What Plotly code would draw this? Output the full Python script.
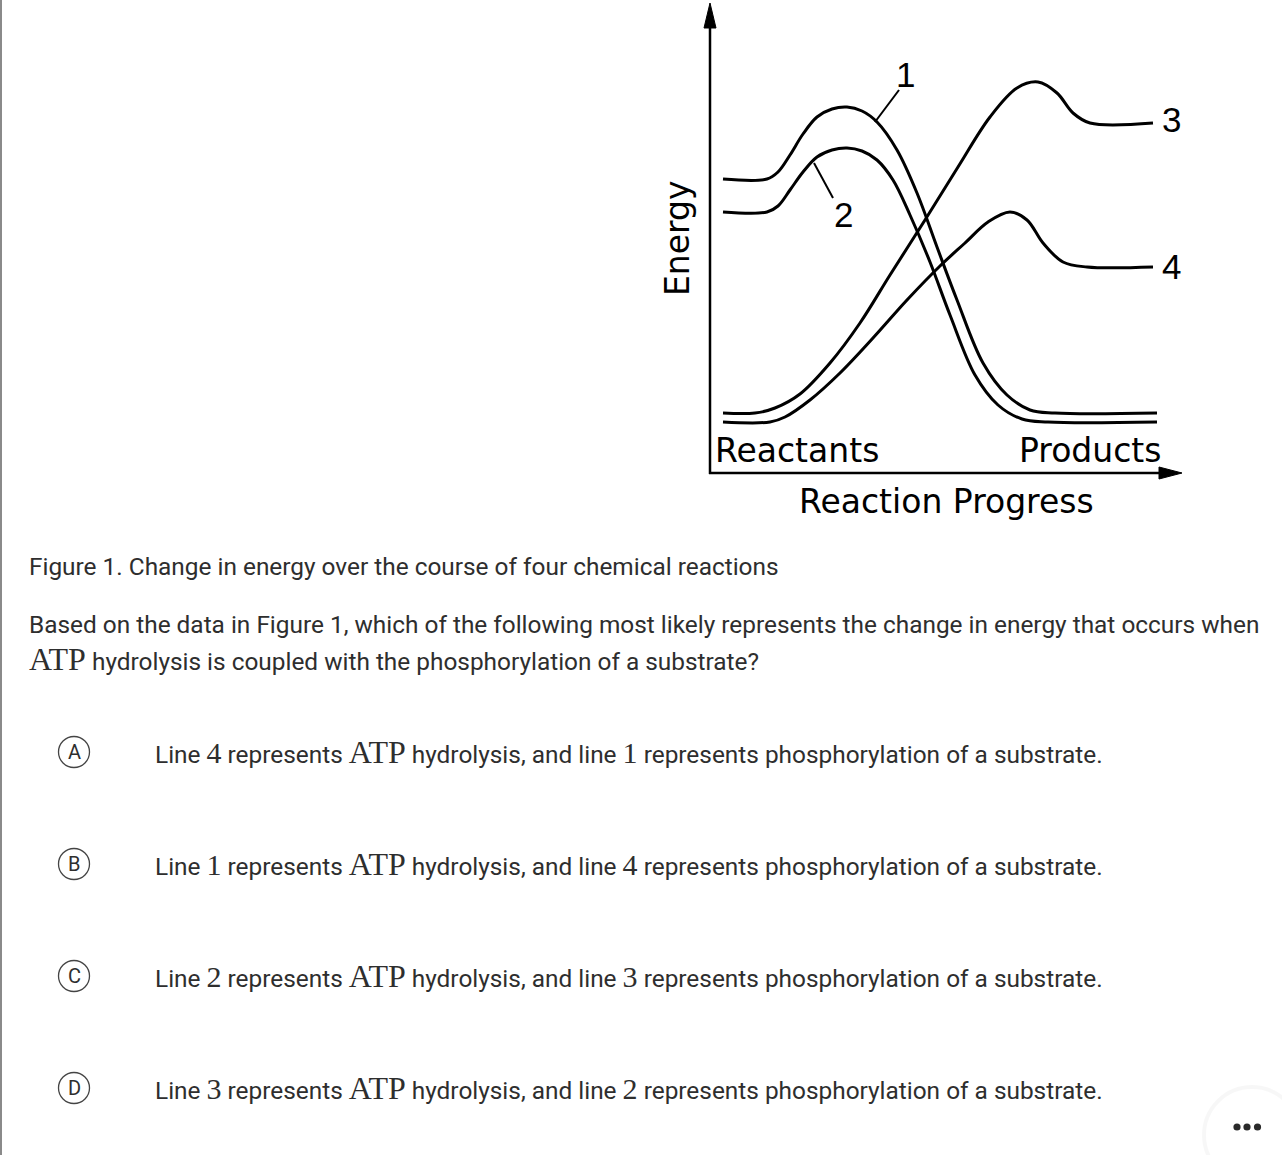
import plotly.graph_objects as go

W, H = 1282, 1155

# ---------------- data (x = reaction progress, y = energy, arbitrary units)
line1_x = [14, 58, 69, 81, 94, 108, 123, 138, 153, 168, 188, 208, 228, 248, 274, 298, 321, 346, 448]
line1_y = [294, 294, 301, 318, 339, 356, 364, 366, 362, 351, 323, 280, 226, 173, 110, 78, 63, 60, 60]

line2_x = [14, 58, 69, 81, 94, 108, 123, 138, 153, 168, 184, 201, 221, 241, 266, 289, 313, 339, 448]
line2_y = [261, 261, 267, 283, 301, 316, 323, 325, 322, 313, 293, 258, 211, 158, 98, 68, 54, 51, 51]

line3_x = [14, 46, 66, 91, 121, 151, 181, 216, 249, 281, 308, 329, 348, 364, 381, 444]
line3_y = [60, 60, 65, 79, 110, 150, 198, 253, 306, 356, 385, 391, 380, 360, 350, 350]

line4_x = [14, 61, 76, 101, 131, 164, 198, 231, 256, 279, 301, 318, 334, 354, 378, 444]
line4_y = [51, 51, 56, 73, 100, 135, 173, 207, 230, 251, 261, 253, 230, 211, 206, 206]

# leader lines for labels 1 and 2
leader1_x = [166, 190]
leader1_y = [351, 383]
leader2_x = [105, 124]
leader2_y = [310, 275]

line_labels = ["1", "2", "3", "4"]
label_x = [196, 134, 462, 462]
label_y = [398, 258, 353, 206]

option_letters = ["A", "B", "C", "D"]
option_first = ["4", "1", "2", "3"]
option_second = ["1", "4", "3", "2"]

caption = "Figure 1. Change in energy over the course of four chemical reactions"
question_1 = "Based on the data in Figure 1, which of the following most likely represents the change in energy that occurs when"
question_2 = "hydrolysis is coupled with the phosphorylation of a substrate?"


def X(px):
    return px / W


def Y(py):
    return 1 - py / H


TEXT = "#2e2e2e"
SERIF = "Liberation Serif"

fig = go.Figure()

for xs, ys in [(line1_x, line1_y), (line2_x, line2_y), (line3_x, line3_y), (line4_x, line4_y)]:
    fig.add_trace(go.Scatter(x=xs, y=ys, mode="lines",
                             line=dict(color="black", width=3, shape="spline", smoothing=1.0),
                             hoverinfo="skip", showlegend=False, cliponaxis=False))
for xs, ys in [(leader1_x, leader1_y), (leader2_x, leader2_y)]:
    fig.add_trace(go.Scatter(x=xs, y=ys, mode="lines", line=dict(color="black", width=2),
                             hoverinfo="skip", showlegend=False, cliponaxis=False))

annotations = []
for t, lx, ly in zip(line_labels, label_x, label_y):
    annotations.append(dict(x=lx, y=ly, xref="x", yref="y", text=t, showarrow=False,
                            font=dict(family="Liberation Sans, Arial, sans-serif", size=35, color="black"),
                            xanchor="center", yanchor="middle"))

chart_font = dict(family="DejaVu Sans", size=33, color="black")
annotations += [
    dict(x=X(797), y=Y(451), text="Reactants", font=chart_font),
    dict(x=X(1090), y=Y(451), text="Products", font=chart_font),
    dict(x=X(946), y=Y(501), text="Reaction Progress", font=chart_font),
    dict(x=X(677), y=Y(238), text="Energy", font=chart_font, textangle=-90),
]
for a in annotations[-4:]:
    a.update(xref="paper", yref="paper", showarrow=False, xanchor="center", yanchor="middle")

body_font = dict(family="Roboto", size=24.4, color=TEXT)


def serif(s, size=32):
    return f"<span style=\"font-family:'{SERIF}';font-size:{size}px\">{s}</span>"


def left_text(px, py, text):
    annotations.append(dict(x=X(px), y=Y(py), xref="paper", yref="paper", text=text,
                            showarrow=False, xanchor="left", yanchor="middle", font=body_font))


left_text(27, 566, caption)
left_text(27, 624, question_1)
left_text(27, 659, serif("ATP") + " " + question_2)

opt_y = [752, 864, 976, 1088]
shapes = []
for letter, a, b, oy in zip(option_letters, option_first, option_second, opt_y):
    text = ("Line " + serif(a, 30) + " represents " + serif("ATP") + " hydrolysis, and line "
            + serif(b, 30) + " represents phosphorylation of a substrate.")
    left_text(153, oy, text)
    shapes.append(dict(type="circle", xref="paper", yref="paper",
                       x0=X(58.5), x1=X(89.5), y0=Y(oy - 15.5), y1=Y(oy + 15.5),
                       line=dict(color="#444444", width=1.3), fillcolor="white"))
    annotations.append(dict(x=X(74), y=Y(oy), xref="paper", yref="paper", text=letter,
                            showarrow=False, xanchor="center", yanchor="middle",
                            font=dict(family="Roboto", size=20, color=TEXT)))

# axes with arrows
shapes += [
    dict(type="line", xref="paper", yref="paper", x0=X(710), x1=X(710), y0=Y(474), y1=Y(20),
         line=dict(color="black", width=2.5)),
    dict(type="line", xref="paper", yref="paper", x0=X(709), x1=X(1165), y0=Y(473), y1=Y(473),
         line=dict(color="black", width=2.5)),
    dict(type="path", xref="paper", yref="paper",
         path=f"M {X(704)},{Y(28)} L {X(710)},{Y(3)} L {X(716)},{Y(28)} Z",
         fillcolor="black", line=dict(color="black", width=1)),
    dict(type="path", xref="paper", yref="paper",
         path=f"M {X(1159)},{Y(467)} L {X(1182)},{Y(473)} L {X(1159)},{Y(479)} Z",
         fillcolor="black", line=dict(color="black", width=1)),
    # left page border
    dict(type="line", xref="paper", yref="paper", x0=X(1), x1=X(1), y0=0, y1=1,
         line=dict(color="#8a8a8a", width=2)),
    # floating menu button bottom-right
    dict(type="circle", xref="paper", yref="paper", x0=X(1204), x1=X(1300), y0=Y(1087), y1=Y(1183),
         line=dict(color="rgba(0,0,0,0.03)", width=4), fillcolor="white"),
]
for dx in [1237, 1247, 1257.5]:
    shapes.append(dict(type="circle", xref="paper", yref="paper",
                       x0=X(dx - 3.6), x1=X(dx + 3.6), y0=Y(1127 - 3.6), y1=Y(1127 + 3.6),
                       line=dict(width=0), fillcolor="#2a2a2a"))

fig.update_layout(
    width=W, height=H, margin=dict(l=0, r=0, t=0, b=0),
    paper_bgcolor="white", plot_bgcolor="white",
    xaxis=dict(domain=[X(709), X(1182)], range=[0, 473], visible=False, fixedrange=True),
    yaxis=dict(domain=[Y(473), Y(5)], range=[0, 468], visible=False, fixedrange=True),
    annotations=annotations, shapes=shapes, showlegend=False,
)

fig.write_html("out.html", config={"displayModeBar": False})
